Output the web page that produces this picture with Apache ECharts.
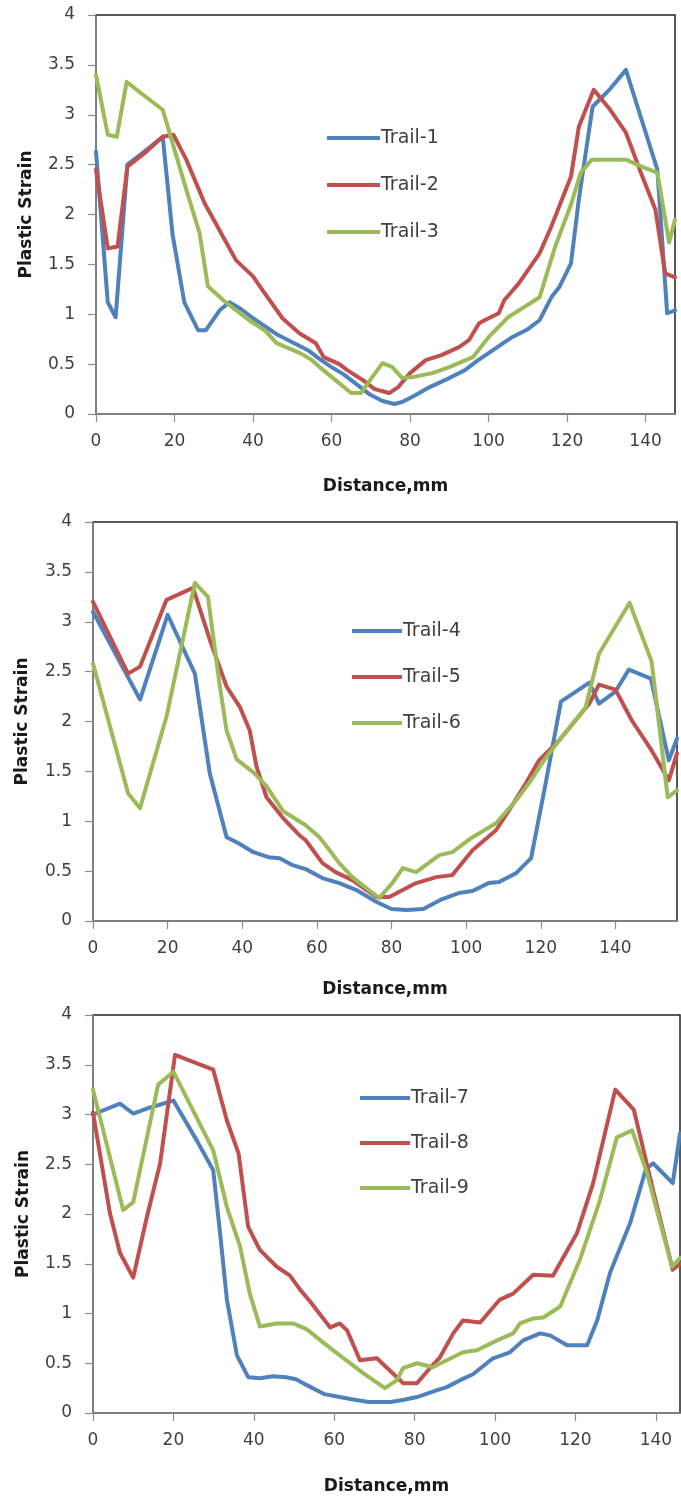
<!DOCTYPE html>
<html>
<head>
<meta charset="utf-8">
<script src="https://cdn.jsdelivr.net/npm/echarts@6/dist/echarts.min.js"></script>
<style>
html,body{margin:0;padding:0;background:#fff;}
#chart{width:681px;height:1500px;}
</style>
</head>
<body>
<div id="chart"></div>
<script>
// ---- data (Distance mm, Plastic Strain) ----
const trail1 = [[0,2.63],[3,1.12],[5,0.97],[8,2.5],[12,2.62],[17,2.78],[19.5,1.8],[22.5,1.12],[26,0.84],[28,0.84],[31.5,1.04],[34,1.12],[37,1.05],[40,0.96],[43,0.88],[46,0.8],[50,0.72],[54,0.64],[57,0.55],[60,0.47],[63,0.4],[66,0.31],[70,0.19],[73,0.13],[76,0.1],[78,0.12],[81,0.18],[85,0.27],[90,0.36],[94,0.44],[97,0.53],[100,0.61],[103,0.69],[106,0.77],[110,0.85],[113,0.94],[116,1.17],[118,1.27],[121,1.51],[123,2.15],[126.5,3.08],[131,3.26],[135,3.45],[139,2.95],[143,2.45],[145.5,1.01],[147.5,1.04]];
const trail2 = [[0,2.45],[3,1.66],[5.5,1.68],[8,2.48],[12.5,2.62],[17,2.78],[19.7,2.8],[23,2.55],[27.7,2.11],[31.5,1.84],[35.7,1.54],[40,1.38],[43,1.21],[47.5,0.96],[51.8,0.81],[56,0.71],[58,0.57],[62,0.5],[64,0.44],[68,0.34],[71,0.25],[74.7,0.21],[77,0.27],[80,0.41],[84,0.54],[88,0.59],[92.5,0.67],[95,0.74],[97.6,0.91],[99,0.94],[102.6,1.01],[104,1.14],[107.7,1.31],[113,1.61],[116,1.88],[121,2.38],[123,2.88],[126.8,3.25],[131,3.05],[135,2.82],[139,2.4],[142.5,2.05],[145,1.41],[147.5,1.37]];
const trail3 = [[0,3.4],[3,2.8],[5.3,2.78],[7.8,3.33],[12,3.2],[17,3.05],[18.8,2.81],[23,2.25],[26.4,1.81],[28.5,1.28],[33,1.12],[36,1.03],[39,0.94],[43,0.84],[46,0.71],[52,0.61],[55,0.54],[57,0.47],[61,0.34],[65,0.21],[67.5,0.21],[70,0.35],[73,0.51],[75.5,0.47],[78,0.36],[80.6,0.37],[85.7,0.41],[90,0.47],[96,0.57],[100,0.77],[105,0.97],[109,1.07],[113,1.17],[117,1.68],[121,2.1],[123.5,2.42],[126.3,2.55],[135,2.55],[139,2.48],[143,2.42],[146,1.72],[147.5,1.95]];

const trail4 = [[0,3.1],[12.6,2.22],[20,3.07],[27.3,2.48],[31.3,1.48],[35.8,0.84],[39,0.78],[43,0.69],[47,0.64],[50,0.63],[53.5,0.56],[57,0.52],[61.5,0.43],[66,0.38],[70.6,0.31],[76,0.19],[80,0.12],[84,0.11],[88.5,0.12],[93.6,0.22],[98,0.28],[101.7,0.3],[106,0.38],[108.8,0.39],[113.4,0.48],[117.4,0.63],[121.3,1.38],[125.4,2.2],[133,2.39],[135.6,2.18],[140,2.3],[143.6,2.52],[149.5,2.43],[154.3,1.61],[156.5,1.83]];
const trail5 = [[0,3.2],[9.4,2.48],[12.6,2.55],[19.7,3.22],[26.8,3.34],[31.3,2.82],[35.8,2.35],[39.3,2.15],[42,1.91],[43.8,1.55],[46.5,1.24],[51,1.03],[55.3,0.86],[57,0.81],[61.5,0.58],[65,0.49],[69.5,0.41],[76,0.24],[79.4,0.24],[86.6,0.38],[92,0.44],[96.3,0.46],[101.7,0.71],[108,0.91],[111.5,1.11],[116,1.38],[119.5,1.61],[124.9,1.81],[133,2.18],[135.6,2.37],[140,2.32],[144.4,2.01],[149.7,1.71],[154.3,1.41],[156.5,1.68]];
const trail6 = [[0,2.58],[9.4,1.28],[12.6,1.13],[19.7,2.05],[27.3,3.39],[30.8,3.25],[34,2.35],[35.8,1.91],[38.5,1.62],[43.3,1.48],[46.5,1.35],[51,1.1],[57,0.96],[60.7,0.84],[63.4,0.71],[66,0.58],[69.5,0.44],[76.7,0.23],[80.2,0.38],[83,0.53],[86.6,0.49],[92.8,0.66],[96.3,0.69],[101.7,0.84],[108,0.98],[113.4,1.21],[116.8,1.38],[121.4,1.64],[124.9,1.81],[132,2.14],[135.6,2.68],[143.8,3.19],[149.7,2.6],[154,1.24],[156.5,1.31]];

const trail7 = [[0,3.0],[6.7,3.11],[10,3.01],[13.4,3.06],[20,3.14],[25.8,2.74],[29.9,2.44],[31.6,1.81],[33.3,1.14],[35.8,0.58],[38.6,0.36],[41.5,0.35],[44.8,0.37],[48,0.36],[50.5,0.34],[53.2,0.28],[57.5,0.19],[61.4,0.16],[64,0.14],[68.5,0.11],[74,0.11],[77,0.13],[80.6,0.16],[85.6,0.23],[88,0.26],[91.3,0.33],[94.5,0.39],[99.5,0.55],[103.7,0.61],[107,0.73],[111.2,0.8],[113.7,0.78],[117.9,0.68],[122.9,0.68],[125.4,0.93],[128.6,1.41],[133.6,1.91],[137.5,2.45],[139.3,2.51],[144.2,2.31],[146,2.81]];
const trail8 = [[0,3.02],[4.2,2.01],[6.7,1.61],[10,1.36],[13.4,1.97],[16.7,2.51],[20.4,3.6],[29.9,3.45],[33.3,2.94],[36.2,2.61],[38.6,1.87],[41.5,1.64],[45.7,1.47],[49,1.38],[51.5,1.24],[54,1.12],[59,0.86],[61.4,0.9],[63.2,0.83],[66.4,0.53],[70.6,0.55],[75.6,0.36],[77.1,0.3],[80.6,0.3],[83.8,0.45],[86.3,0.56],[89.6,0.8],[92,0.93],[96.3,0.91],[101.2,1.14],[104.5,1.2],[109.5,1.39],[114.4,1.38],[120.4,1.81],[124.4,2.31],[129.9,3.25],[134.5,3.05],[139.3,2.24],[144.2,1.44],[146,1.5]];
const trail9 = [[0,3.25],[7.5,2.04],[10,2.12],[16.2,3.3],[20,3.43],[29.9,2.64],[33.3,2.07],[36.6,1.67],[39,1.2],[41.5,0.87],[45.7,0.9],[49.8,0.9],[53.2,0.84],[55.7,0.76],[57.5,0.7],[61.4,0.58],[67.2,0.4],[72.6,0.25],[75.6,0.33],[77.1,0.45],[80.6,0.5],[84.5,0.46],[92,0.61],[95.5,0.63],[100.5,0.73],[104.5,0.8],[106.2,0.9],[109.5,0.95],[112,0.96],[116.2,1.07],[121.1,1.54],[126.1,2.14],[130.3,2.77],[134.1,2.84],[137.8,2.41],[144,1.47],[146,1.56]];

const seriesNames = ['Trail-1','Trail-2','Trail-3','Trail-4','Trail-5','Trail-6','Trail-7','Trail-8','Trail-9'];
const seriesData = [trail1,trail2,trail3,trail4,trail5,trail6,trail7,trail8,trail9];
const xTicks = [0,20,40,60,80,100,120,140];
const xMax = [147.5,156.5,146];
const yTicks = [0,0.5,1,1.5,2,2.5,3,3.5,4];
const xTitle = 'Distance,mm';
const yTitle = 'Plastic Strain';
const colors = ['#4F81BD','#C0504D','#9BBB59'];

// ---- layout ----
const grids = [
  {left:96, top:15, width:579, height:399},
  {left:93, top:522, width:584, height:399},
  {left:93, top:1015, width:587, height:398}
];
const xNameGap = [64,60,65];
const yNameGap = [61,62,61];
const legendPos = [
  {left:322, top:123, itemWidth:53, itemGap:27},
  {left:347, top:616, itemWidth:50, itemGap:26},
  {left:355, top:1083, itemWidth:50, itemGap:25}
];

const axisGray = '#8c8c8c';
const textCol = '#404040';

const option = {
  animation:false,
  backgroundColor:'#fff',
  grid: grids.map(g => Object.assign({show:true, borderColor:'#222', borderWidth:1.5, backgroundColor:'transparent'}, g)),
  xAxis: grids.map((g,i) => ({
    type:'value', gridIndex:i, min:0, max:xMax[i],
    name:xTitle, nameLocation:'middle', nameGap:xNameGap[i],
    nameTextStyle:{fontFamily:'DejaVu Sans', fontWeight:'bold', fontSize:17, color:'#1a1a1a'},
    axisLine:{show:true, onZero:false, lineStyle:{color:axisGray, width:1.5}},
    axisTick:{show:true, inside:false, length:8, lineStyle:{color:axisGray, width:1.2}, customValues:xTicks},
    axisLabel:{fontFamily:'DejaVu Sans', fontSize:17, color:textCol, margin:19, customValues:xTicks},
    splitLine:{show:false}
  })),
  yAxis: grids.map((g,i) => ({
    type:'value', gridIndex:i, min:0, max:4, interval:0.5,
    name:yTitle, nameLocation:'middle', nameGap:yNameGap[i],
    nameTextStyle:{fontFamily:'DejaVu Sans', fontWeight:'bold', fontSize:17, color:'#1a1a1a'},
    axisLine:{show:true, onZero:false, lineStyle:{color:axisGray, width:1.5}},
    axisTick:{show:true, inside:false, length:8, lineStyle:{color:axisGray, width:1.2}, customValues:yTicks},
    axisLabel:{fontFamily:'DejaVu Sans', fontSize:17, color:textCol, margin:21, customValues:yTicks},
    splitLine:{show:false}
  })),
  legend: legendPos.map((p,i) => ({
    orient:'vertical', left:p.left, top:p.top,
    itemWidth:p.itemWidth, itemHeight:4, itemGap:p.itemGap,
    icon:'rect',
    data: seriesNames.slice(i*3, i*3+3),
    textStyle:{fontFamily:'DejaVu Sans', fontSize:19, color:textCol, lineHeight:20, padding:[0,0,0,-4]},
    selectedMode:false
  })),
  series: seriesData.map((d,k) => ({
    name: seriesNames[k], type:'line',
    xAxisIndex: Math.floor(k/3), yAxisIndex: Math.floor(k/3),
    data: d, showSymbol:false, symbol:'none',
    color: colors[k%3],
    lineStyle:{width:4, color:colors[k%3], join:'round', cap:'round'},
    clip:true
  }))
};

const chart = echarts.init(document.getElementById('chart'), null, {renderer:'canvas'});
chart.setOption(option);
</script>
</body>
</html>
